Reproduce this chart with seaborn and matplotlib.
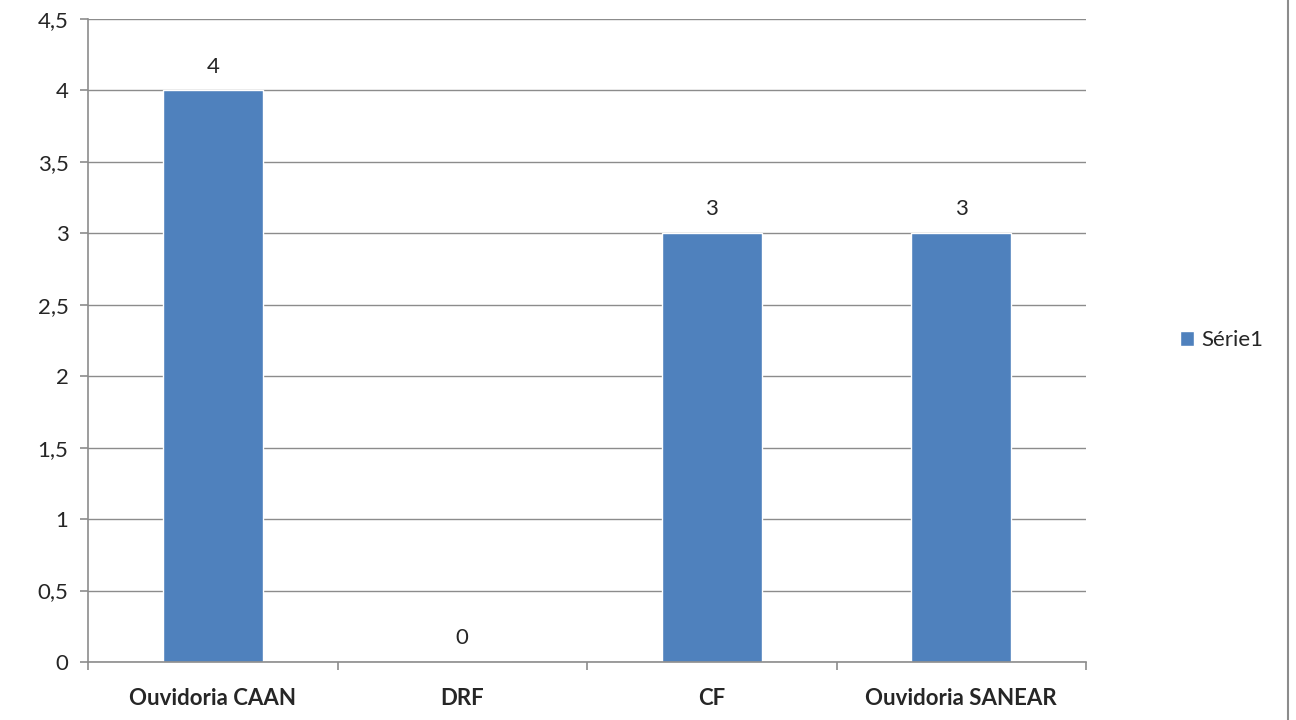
import matplotlib
matplotlib.use("Agg")
import matplotlib.pyplot as plt
import matplotlib.ticker as mticker
from matplotlib.lines import Line2D
import pandas as pd
import seaborn as sns

# data
categorias = ["Ouvidoria CAAN", "DRF", "CF", "Ouvidoria SANEAR"]
valores = [4, 0, 3, 3]
serie = "Série1"

df = pd.DataFrame({"categoria": categorias, "valor": valores, "serie": serie})

sns.set_style("white")
plt.rcParams["font.family"] = ["Lato", "DejaVu Sans"]

cor = "#4F81BD"
cinza = "#8C8C8C"
fs = 16

fig = plt.figure(figsize=(12.96, 7.2), dpi=100)
ax = fig.add_axes([88 / 1296, 1 - 662 / 720, (1086 - 88) / 1296, (662 - 19) / 720])

sns.barplot(data=df, x="categoria", y="valor", hue="serie", palette=[cor],
            saturation=1, width=0.4, ax=ax, legend=True)

ax.set_ylim(0, 4.5)
ax.set_xlim(-0.5, len(categorias) - 0.5)
ax.yaxis.set_major_locator(mticker.MultipleLocator(0.5))
ax.yaxis.set_major_formatter(mticker.FuncFormatter(
    lambda v, p: f"{v:g}".replace(".", ",")))
ax.grid(axis="y", color=cinza, linewidth=1)
ax.set_axisbelow(True)

ax.set_xlabel("")
ax.set_ylabel("")

# x ticks sit between categories, labels in the middle
ax.set_xticks([i - 0.5 for i in range(len(categorias) + 1)], minor=False)
ax.set_xticklabels([])
ax.set_xticks(range(len(categorias)), minor=True)
ax.set_xticklabels(categorias, minor=True, fontsize=fs, fontweight="bold")
ax.tick_params(axis="x", which="minor", bottom=True, length=0, pad=19)
ax.tick_params(axis="x", which="major", bottom=True, length=6, width=1.2,
               color=cinza, direction="out")
ax.tick_params(axis="y", left=True, length=6, width=1.2, color=cinza, direction="out",
               labelsize=fs, pad=8)

for s in ["top", "right"]:
    ax.spines[s].set_visible(False)
for s in ["left", "bottom"]:
    ax.spines[s].set_color(cinza)
    ax.spines[s].set_linewidth(1.2)

for cont in ax.containers:
    ax.bar_label(cont, labels=[str(v) for v in valores], padding=10, fontsize=fs)

leg = ax.legend(loc="center left", bbox_to_anchor=(1160 / 1296, 1 - 340 / 720),
                bbox_transform=fig.transFigure, frameon=False, fontsize=fs,
                handlelength=0.65, handleheight=0.65, handletextpad=0.3)

# frame line on the right edge
fig.add_artist(Line2D([1288 / 1296, 1288 / 1296], [0, 1], transform=fig.transFigure,
                      color=cinza, linewidth=1.5))

fig.savefig("out.png", dpi=100)
